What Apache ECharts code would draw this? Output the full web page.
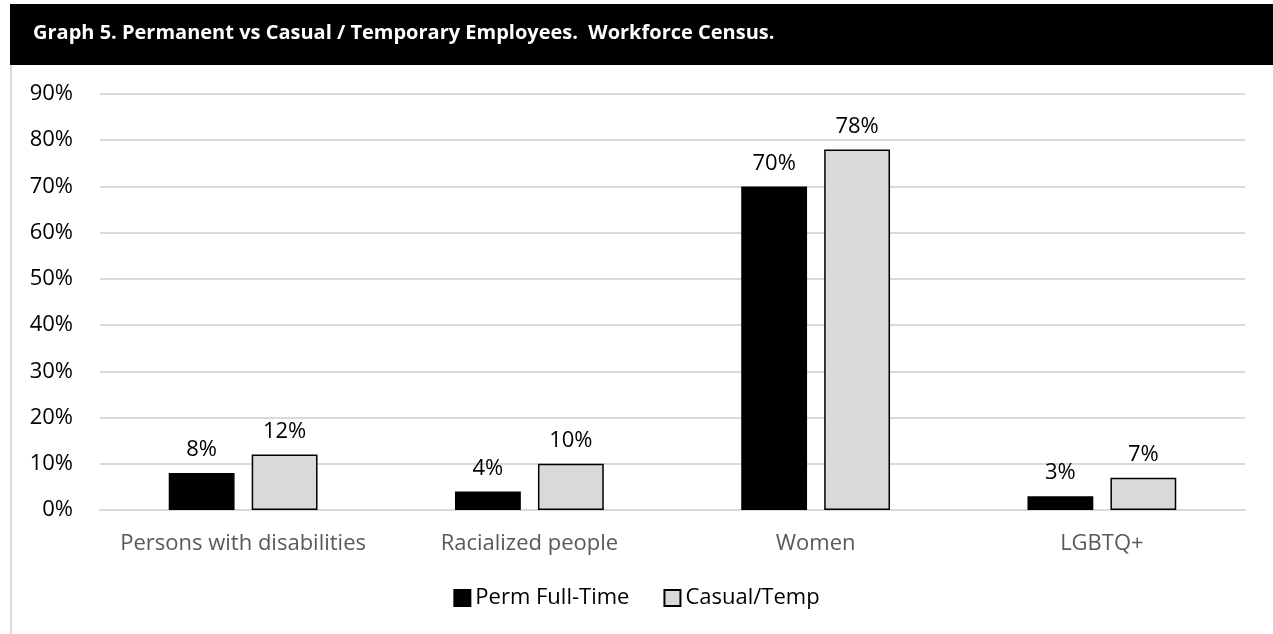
<!DOCTYPE html>
<html>
<head>
<meta charset="utf-8">
<script src="https://cdn.jsdelivr.net/npm/echarts@6/dist/echarts.min.js"></script>
<style>
  html, body { margin: 0; padding: 0; background: #fff; }
  #chart { width: 1273px; height: 634px; }
</style>
</head>
<body>
<div id="chart"></div>
<script>
const categories = ["Persons with disabilities", "Racialized people", "Women", "LGBTQ+"];
const permFullTime = [8, 4, 70, 3];
const casualTemp = [12, 10, 78, 7];
const seriesNames = ["Perm Full-Time", "Casual/Temp"];
const titleText = "Graph 5. Permanent vs Casual / Temporary Employees.  Workforce Census.";

const font = "'Open Sans', 'Noto Sans', sans-serif";

const chart = echarts.init(document.getElementById("chart"));

const labelStyle = {
  show: true,
  position: "top",
  distance: 12,
  formatter: "{c}%",
  color: "#000",
  fontSize: 22,
  fontFamily: font,
};

chart.setOption({
  animation: false,
  textStyle: { fontFamily: font },
  graphic: [
    {
      type: "rect",
      shape: { x: 10, y: 4, width: 1263, height: 61 },
      style: { fill: "#000" },
      z: 0,
    },
    {
      type: "line",
      shape: { x1: 11, y1: 65, x2: 11, y2: 634 },
      style: { stroke: "#d9d9d9", lineWidth: 2 },
    },
    {
      type: "text",
      left: 33,
      top: 23,
      style: {
        text: titleText,
        fill: "#fff",
        font: "bold 20px " + font,
      },
      z: 10,
    },
  ],
  legend: {
    bottom: 20,
    left: "center",
    icon: "rect",
    itemWidth: 16,
    itemHeight: 16,
    itemGap: 34,
    textStyle: { fontSize: 22, color: "#000", fontFamily: font },
    data: seriesNames,
  },
  grid: {
    left: 100,
    right: 28,
    top: 94,
    bottom: 124,
    containLabel: false,
  },
  xAxis: {
    type: "category",
    data: categories,
    axisLine: { show: true, lineStyle: { color: "#d9d9d9", width: 2 } },
    axisTick: { show: false },
    axisLabel: {
      interval: 0,
      color: "#595959",
      fontSize: 22,
      margin: 23,
      fontFamily: font,
    },
  },
  yAxis: {
    type: "value",
    min: 0,
    max: 90,
    interval: 10,
    axisLine: { show: false },
    axisTick: { show: false },
    axisLabel: {
      formatter: "{value}%",
      color: "#000",
      fontSize: 22,
      margin: 27,
      fontFamily: font,
    },
    splitLine: { lineStyle: { color: "#d9d9d9", width: 2 } },
  },
  series: [
    {
      name: seriesNames[0],
      type: "bar",
      data: permFullTime,
      barWidth: "23%",
      barGap: "26%",
      itemStyle: { color: "#000", borderColor: "#000", borderWidth: 1.5 },
      label: labelStyle,
    },
    {
      name: seriesNames[1],
      type: "bar",
      data: casualTemp,
      barWidth: "23%",
      itemStyle: { color: "#d9d9d9", borderColor: "#000", borderWidth: 1.5 },
      label: labelStyle,
    },
  ],
});

window.addEventListener("resize", function () {
  chart.resize();
});
</script>
</body>
</html>
